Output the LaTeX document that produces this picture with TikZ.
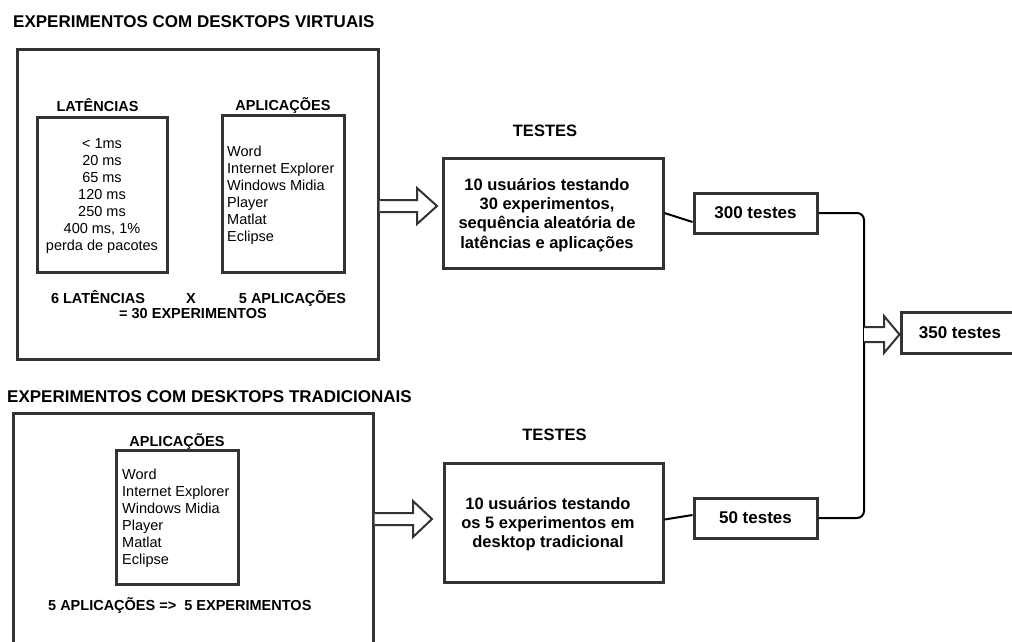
\documentclass[tikz,border=0pt]{standalone}
\usepackage{fontspec}
\setmainfont{Liberation Sans}
\usetikzlibrary{calc}
\definecolor{edge}{HTML}{333333}
\newcommand{\fsz}[2]{\fontsize{#1}{#2}\selectfont}
\tikzset{
  box/.style={draw=edge, line width=3pt, fill=none, inner sep=0pt},
  conn/.style={draw=black, line width=2pt},
  harrow/.style={draw=edge, line width=2pt, fill=white, line join=miter},
  ttl/.style={inner sep=0pt, anchor=base west, font=\fsz{17}{20}\bfseries},
  lbl/.style={inner sep=0pt, anchor=base, font=\fsz{14.5}{17}\bfseries},
  body/.style={inner sep=0pt, font=\fsz{14.5}{17}},
  tst/.style={inner sep=0pt, align=center, font=\fsz{16.5}{19.3}\bfseries},
}
\begin{document}
\begin{tikzpicture}[x=1pt, y=-1pt]
\useasboundingbox (0,0) rectangle (1012,641);
\clip (0,0) rectangle (1012,641);
\fill[white] (0,0) rectangle (1012,641);

% ---------- virtual desktops ----------
\node[ttl] (t1) at (13,27) {EXPERIMENTOS COM DESKTOPS VIRTUAIS};
\node[box, minimum width=361pt, minimum height=310pt] (V) at (197.5,204) {};
\node[lbl] (latl) at (97.5,111) {LATÊNCIAS};
\node[box, minimum width=130pt, minimum height=155pt] (L) at (102,194.5) {};
\node[body, align=center] (latt) at (102,196) {< 1ms\\20 ms\\65 ms\\120 ms\\250 ms\\400 ms, 1\%\\perda de pacotes};
\node[lbl] (appl1) at (283,110) {APLICAÇÕES};
\node[box, minimum width=122pt, minimum height=157pt] (A1) at (283,193.5) {};
\node[body, align=left, anchor=west] (appt1) at (227,195) {Word\\Internet Explorer\\Windows Midia\\Player\\Matlat\\Eclipse};
\node[lbl] (n6) at (98,303) {6 LATÊNCIAS};
\node[lbl] (nx) at (191,303) {X};
\node[lbl] (n5) at (292.5,303) {5 APLICAÇÕES};
\node[lbl] (n30) at (193,318) {= 30 EXPERIMENTOS};

% ---------- traditional desktops ----------
\node[ttl] (t2) at (7,402) {EXPERIMENTOS COM DESKTOPS TRADICIONAIS};
\node[box, minimum width=360pt, minimum height=287pt] (D) at (193,556.5) {};
\node[lbl] (appl2) at (177,446) {APLICAÇÕES};
\node[box, minimum width=122pt, minimum height=134pt] (A2) at (177,517) {};
\node[body, align=left, anchor=west] (appt2) at (122,518) {Word\\Internet Explorer\\Windows Midia\\Player\\Matlat\\Eclipse};
\node[lbl, anchor=base west] (n55) at (48,610) {5 APLICAÇÕES =>\ \ 5 EXPERIMENTOS};

% ---------- tests ----------
\node[inner sep=0pt, anchor=base, font=\fsz{16.5}{19}\bfseries] (tt1) at (545,136) {TESTES};
\node[box, minimum width=220pt, minimum height=110pt] (T1) at (553,213) {};
\node[tst] (T1t) at (547,215) {10 usuários testando\\30 experimentos,\\sequência aleatória de\\latências e aplicações};

\node[inner sep=0pt, anchor=base, font=\fsz{16.5}{19}\bfseries] (tt2) at (554.5,440) {TESTES};
\node[box, minimum width=219pt, minimum height=119pt] (T2) at (553.5,522.5) {};
\node[tst] (T2t) at (548,524) {10 usuários testando\\os 5 experimentos em\\desktop tradicional};

\node[box, minimum width=123pt, minimum height=40pt, font=\fsz{17}{20}\bfseries] (B300) at (755.5,213) {300 testes};
\node[box, minimum width=123pt, minimum height=40pt, font=\fsz{17}{20}\bfseries] (B50) at (755.5,518) {50 testes};
\node[box, minimum width=118pt, minimum height=41pt, font=\fsz{17}{20}\bfseries] (B350) at (960,332.5) {350 testes};

% ---------- connectors ----------
\draw[conn] (T1.east) -- ([yshift=-9pt]B300.west);
\draw[conn] ([yshift=3pt]T2.east) -- ([yshift=3pt]B50.west);
\coordinate (J) at (864,334.5);
\draw[conn, rounded corners=7pt] (B300.east) -| (J) |- (B50.east);

% ---------- hollow arrows ----------
\draw[harrow] (V.east |- 0,200) -- (417,200) -- (417,188) -- (437,206) -- (417,224) -- (417,212) -- (V.east |- 0,212);
\draw[harrow] (D.east |- 0,513) -- (413,513) -- (413,501) -- (432,519) -- (413,537) -- (413,525) -- (D.east |- 0,525);
\draw[harrow] (J |- 0,327) -- (884,327) -- (884,316) -- (B350.west |- 0,334.5) -- (884,353) -- (884,342) -- (J |- 0,342);
\end{tikzpicture}
\end{document}
